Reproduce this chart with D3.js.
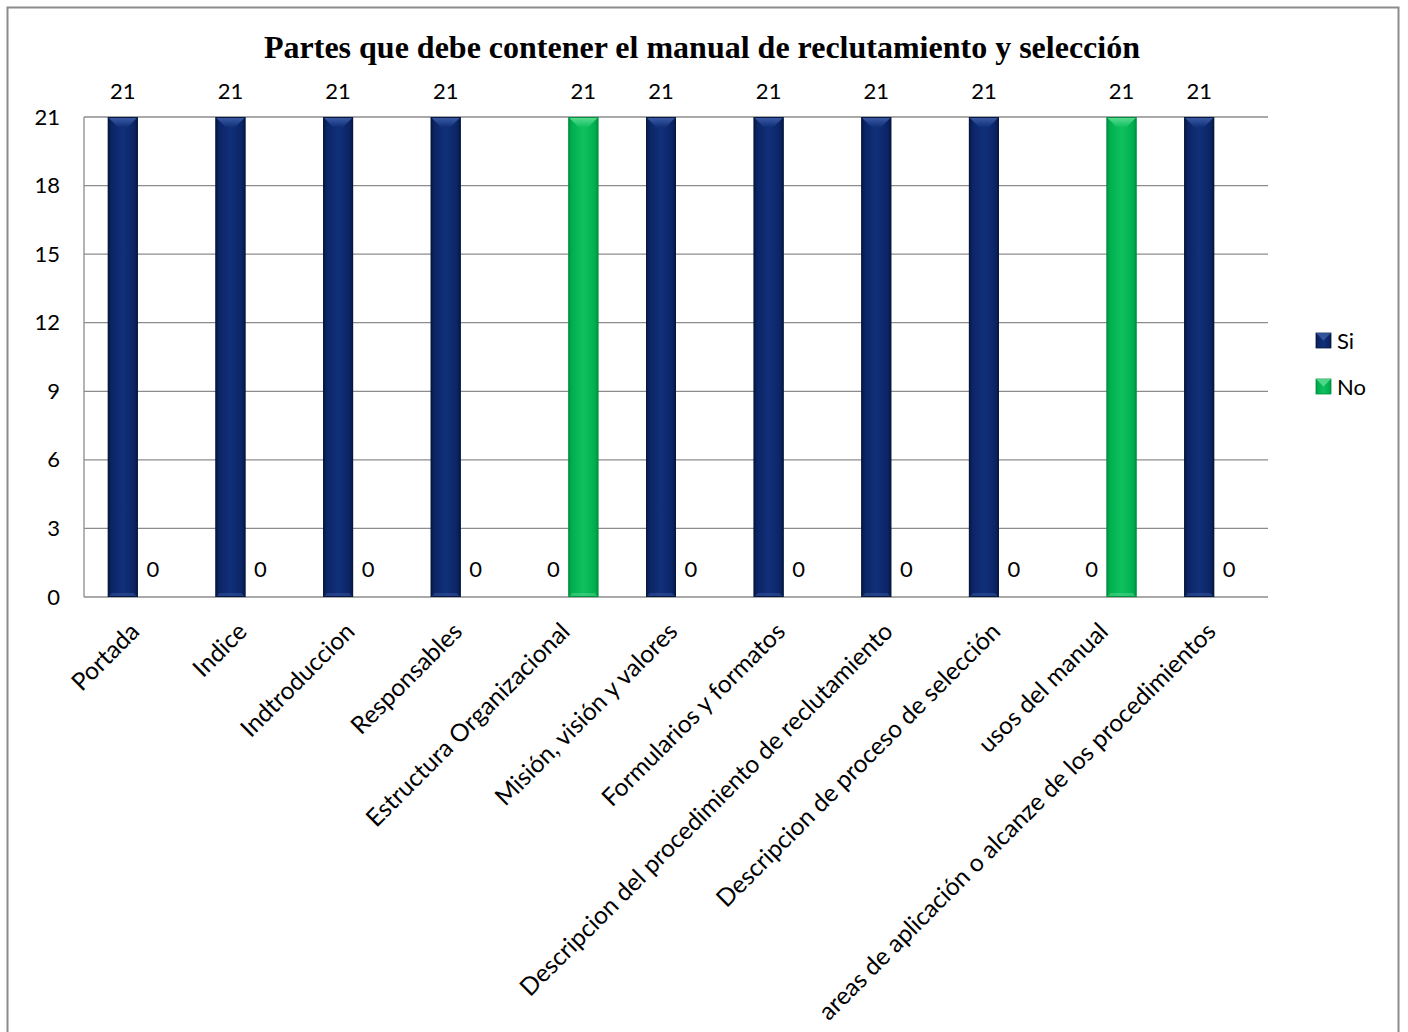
<!DOCTYPE html>
<html>
<head>
<meta charset="utf-8">
<script src="https://cdn.jsdelivr.net/npm/d3@7"></script>
<style>
  html, body { margin: 0; padding: 0; background: #fff; }
  svg { display: block; }
</style>
</head>
<body>
<svg id="chart" width="1408" height="1032"></svg>
<script>
// Parts of the recruitment & selection manual: count of "Si" / "No" answers
const categories = [
  "Portada",
  "Indice",
  "Indtroduccion",
  "Responsables",
  "Estructura Organizacional",
  "Misión, visión y valores",
  "Formularios y formatos",
  "Descripcion del procedimiento de reclutamiento",
  "Descripcion de proceso de selección",
  "usos del manual",
  "areas de aplicación o alcanze de los procedimientos"
];
const seriesNames = ["Si", "No"];
const siValues = [21, 21, 21, 21, 0, 21, 21, 21, 21, 0, 21];
const noValues = [0, 0, 0, 0, 21, 0, 0, 0, 0, 21, 0];
const yTicks = [0, 3, 6, 9, 12, 15, 18, 21];
const titleText = "Partes que debe contener el manual de reclutamiento y selección";

const plot = { left: 84, right: 1268, top: 117, bottom: 597 };
const labelFont = "Lato, 'Open Sans', sans-serif";

const svg = d3.select("#chart");

// colour schemes for the two series (base, dark edge, light bevel)
const palette = {
  Si: { base: "#0b2465", edge: "#06183f", light: "#3d5da6", mid: "#11307a" },
  No: { base: "#00b050", edge: "#00913f", light: "#5fdc95", mid: "#10c05e" }
};

const defs = svg.append("defs");
seriesNames.forEach(s => {
  const p = palette[s];
  const g = defs.append("linearGradient").attr("id", "body-" + s)
    .attr("x1", "0%").attr("x2", "100%").attr("y1", "0%").attr("y2", "0%");
  g.append("stop").attr("offset", "0%").attr("stop-color", p.edge);
  g.append("stop").attr("offset", "12%").attr("stop-color", p.base);
  g.append("stop").attr("offset", "50%").attr("stop-color", p.mid);
  g.append("stop").attr("offset", "88%").attr("stop-color", p.base);
  g.append("stop").attr("offset", "100%").attr("stop-color", p.edge);
  const b = defs.append("linearGradient").attr("id", "bevel-" + s)
    .attr("x1", "0%").attr("x2", "0%").attr("y1", "0%").attr("y2", "100%");
  b.append("stop").attr("offset", "0%").attr("stop-color", p.light);
  b.append("stop").attr("offset", "100%").attr("stop-color", p.mid);
});

// outer chart border
svg.append("rect")
  .attr("x", 7.5).attr("y", 7.5)
  .attr("width", 1391).attr("height", 1060)
  .attr("fill", "#fff")
  .attr("stroke", "#8c8c8c").attr("stroke-width", 2);

// title
svg.append("text")
  .attr("x", 702).attr("y", 58)
  .attr("text-anchor", "middle")
  .attr("font-family", "'Liberation Serif', 'Times New Roman', serif")
  .attr("font-weight", "bold")
  .attr("font-size", 32)
  .attr("fill", "#000")
  .text(titleText);

// scales
const x0 = d3.scaleBand().domain(categories).range([plot.left, plot.right]).padding(0);
const groupW = 60;
const x1 = d3.scaleBand().domain(seriesNames).range([0, groupW]).padding(0);
const y = d3.scaleLinear().domain([0, 21]).range([plot.bottom, plot.top]);

// horizontal gridlines
svg.append("g").selectAll("line").data(yTicks).join("line")
  .attr("x1", plot.left).attr("x2", plot.right)
  .attr("y1", d => y(d)).attr("y2", d => y(d))
  .attr("stroke", "#8c8c8c").attr("stroke-width", 1.3);

// left axis line
svg.append("line")
  .attr("x1", plot.left).attr("x2", plot.left)
  .attr("y1", plot.top).attr("y2", plot.bottom)
  .attr("stroke", "#8c8c8c").attr("stroke-width", 1.3);

// y axis labels
const yAxis = d3.axisLeft(y).tickValues(yTicks).tickSize(0).tickPadding(24);
const yg = svg.append("g").attr("transform", `translate(${plot.left},0)`).call(yAxis);
yg.select(".domain").remove();
yg.selectAll("text")
  .attr("font-family", labelFont).attr("font-size", 22).attr("fill", "#000");

// data rows
const rows = categories.map((c, i) => ({ cat: c, Si: siValues[i], No: noValues[i] }));

const groups = svg.append("g").selectAll("g").data(rows).join("g")
  .attr("transform", d => `translate(${x0(d.cat) + (x0.bandwidth() - groupW) / 2},0)`);

const bev = 10;
groups.each(function (row) {
  const g = d3.select(this);
  seriesNames.forEach(s => {
    const v = row[s];
    const bx = x1(s), bw = x1.bandwidth();
    const top = y(v), bot = y(0);
    if (v > 0) {
      g.append("rect")
        .attr("x", bx).attr("y", top)
        .attr("width", bw).attr("height", bot - top)
        .attr("fill", `url(#body-${s})`);
      // top bevel
      g.append("path")
        .attr("d", `M${bx},${top}L${bx + bw},${top}L${bx + bw - bev},${top + bev}L${bx + bev},${top + bev}Z`)
        .attr("fill", `url(#bevel-${s})`);
      // thin lower bevel
      g.append("path")
        .attr("d", `M${bx},${bot}L${bx + bw},${bot}L${bx + bw - 4},${bot - 4}L${bx + 4},${bot - 4}Z`)
        .attr("fill", palette[s].light).attr("opacity", 0.45);
      // outline
      g.append("rect")
        .attr("x", bx + 0.5).attr("y", top + 0.5)
        .attr("width", bw - 1).attr("height", bot - top - 1)
        .attr("fill", "none").attr("stroke", palette[s].edge).attr("stroke-width", 1);
    }
    // value label
    g.append("text")
      .attr("x", bx + bw / 2)
      .attr("y", v > 0 ? y(v) - 18 : y(v) - 20)
      .attr("text-anchor", "middle")
      .attr("font-family", labelFont).attr("font-size", 22).attr("fill", "#000")
      .text(v);
  });
});

// category labels, rotated
svg.append("g").selectAll("text").data(categories).join("text")
  .attr("transform", d => `translate(${x0(d) + x0.bandwidth() / 2 - 3},${plot.bottom + 30}) rotate(-45)`)
  .attr("text-anchor", "end")
  .attr("dy", "0.35em")
  .attr("font-family", labelFont).attr("font-size", 24.5).attr("fill", "#000")
  .text(d => d);

// legend
const legend = svg.append("g").attr("transform", "translate(1316,333)");
seriesNames.forEach((s, i) => {
  const lg = legend.append("g").attr("transform", `translate(0,${i * 46})`);
  lg.append("rect").attr("width", 15).attr("height", 15).attr("fill", `url(#body-${s})`)
    .attr("stroke", palette[s].edge).attr("stroke-width", 0.8);
  lg.append("path").attr("d", "M0,0L15,0L7.5,7.5Z").attr("fill", palette[s].light).attr("opacity", 0.8);
  lg.append("text").attr("x", 21).attr("y", 8).attr("dy", "0.35em")
    .attr("font-family", labelFont).attr("font-size", 22).attr("fill", "#000")
    .text(s);
});
</script>
</body>
</html>
